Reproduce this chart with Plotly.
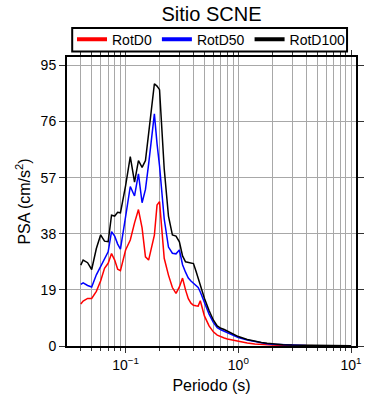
import plotly.graph_objects as go

periods = [0.04, 0.042, 0.046, 0.05, 0.055, 0.06, 0.065, 0.07, 0.075, 0.08,
           0.085, 0.09, 0.1, 0.11, 0.12, 0.13, 0.14, 0.15, 0.16, 0.17,
           0.18, 0.19, 0.2, 0.22, 0.24, 0.26, 0.28, 0.3, 0.32, 0.34,
           0.36, 0.38, 0.4, 0.42, 0.44, 0.46, 0.5, 0.55, 0.6, 0.65,
           0.7, 0.75, 0.8, 0.9, 1.0, 1.2, 1.4, 1.6, 1.8, 2.0,
           2.5, 3.0, 4.0, 5.0, 6.0, 7.0, 8.0, 10.0]

rotd0 = [14.2, 15.2, 16.1, 16.1, 18.5, 22.0, 26.3, 28.0, 31.3, 29.1,
         26.0, 25.5, 32.5, 35.9, 41.7, 46.2, 40.0, 30.2, 29.1, 34.0,
         37.5, 47.7, 48.9, 29.7, 24.0, 19.8, 17.8, 20.0, 23.0, 19.0,
         16.0, 14.5, 13.8, 13.6, 13.5, 15.3, 10.2, 6.8, 4.8, 3.7,
         3.1, 2.7, 2.4, 2.0, 1.5, 1.0, 0.7, 0.5, 0.4, 0.3,
         0.2, 0.15, 0.1, 0.08, 0.06, 0.05, 0.04, 0.03]

rotd50 = [20.9, 21.4, 20.5, 20.0, 24.1, 26.9, 29.4, 31.9, 38.7, 37.2,
          34.5, 32.8, 43.8, 54.0, 50.8, 58.3, 48.5, 53.0, 61.6, 70.9,
          78.6, 68.5, 61.0, 43.0, 33.5, 31.4, 31.2, 32.5, 27.5, 25.0,
          23.0, 22.0, 21.2, 20.5, 19.8, 18.3, 14.8, 10.8, 8.0, 6.2,
          5.5, 5.0, 4.5, 3.7, 2.9, 2.0, 1.45, 1.05, 0.8, 0.6,
          0.38, 0.26, 0.16, 0.12, 0.1, 0.08, 0.06, 0.05]

rotd100 = [27.4, 29.1, 28.2, 25.9, 33.0, 37.6, 35.5, 35.3, 44.3, 44.0,
           45.3, 45.1, 54.3, 64.1, 55.5, 62.8, 60.5, 62.8, 71.9, 81.7,
           88.8, 88.0, 86.8, 60.0, 44.0, 37.6, 37.2, 35.3, 30.5, 28.5,
           28.2, 28.1, 27.9, 25.5, 23.0, 20.5, 16.2, 12.0, 8.8, 6.8,
           6.0, 5.6, 5.1, 4.2, 3.2, 2.2, 1.6, 1.2, 0.9, 0.7,
           0.45, 0.3, 0.2, 0.15, 0.12, 0.1, 0.08, 0.06]

series_names = ["RotD0", "RotD50", "RotD100"]
series_colors = ["#ff0000", "#0000ff", "#000000"]

x_major = [0.1, 1, 10]
x_major_text = ["10<sup>−1</sup>", "10<sup>0</sup>", "10<sup>1</sup>"]
x_minor = [0.03, 0.04, 0.05, 0.06, 0.07, 0.08, 0.09,
           0.2, 0.3, 0.4, 0.5, 0.6, 0.7, 0.8, 0.9,
           2, 3, 4, 5, 6, 7, 8, 9]
y_ticks = [0, 19, 38, 57, 76, 95]

FONT = "Liberation Sans, Arial, Helvetica, sans-serif"
GRID = "#a8a8a8"

fig = go.Figure()
for name, color, vals in zip(series_names, series_colors, [rotd0, rotd50, rotd100]):
    fig.add_trace(go.Scatter(x=periods, y=vals, mode="lines", name=name,
                             line=dict(color=color, width=1.5), showlegend=False))
# legend entries with thicker sample lines
for name, color in zip(series_names, series_colors):
    fig.add_trace(go.Scatter(x=[None], y=[None], mode="lines", name=name,
                             line=dict(color=color, width=4), showlegend=True))

fig.update_layout(
    width=390, height=400,
    margin=dict(l=67, r=34, t=57, b=54, autoexpand=False),
    paper_bgcolor="white", plot_bgcolor="white",
    font=dict(family=FONT, color="black", size=14),
    title=dict(text="Sitio SCNE", x=0.5, xref="paper", xanchor="center",
               y=0.965, yref="container", yanchor="middle",
               font=dict(size=20, family=FONT, color="black")),
    legend=dict(orientation="h", x=0.5, xanchor="center", xref="paper",
                y=1.06, yanchor="middle", borderwidth=0,
                bgcolor="rgba(0,0,0,0)", font=dict(size=14, family=FONT),
                tracegroupgap=0),
    showlegend=True,
    shapes=[dict(type="rect", xref="paper", yref="paper",
                 x0=0.018, x1=0.969, y0=1.0194, y1=1.1006,
                 line=dict(color="black", width=2), fillcolor="white",
                 layer="above")],
)

fig.update_xaxes(
    type="log", range=[-1.52, 1.044],
    tickmode="array", tickvals=x_major, ticktext=x_major_text,
    ticks="outside", ticklen=5, tickwidth=1, tickcolor="#333333",
    showline=True, linecolor="black", linewidth=2, mirror="ticks",
    showgrid=True, gridcolor=GRID, gridwidth=1,
    zeroline=False,
    minor=dict(tickmode="array", tickvals=x_minor, ticks="outside", ticklen=3,
               tickcolor="#333333", showgrid=True, gridcolor=GRID, gridwidth=1),
    title=dict(text="Periodo (s)", font=dict(size=16, family=FONT), standoff=8),
    tickfont=dict(size=14, family=FONT),
)
fig.update_yaxes(
    range=[0, 97.85],
    tickmode="array", tickvals=y_ticks,
    ticks="outside", ticklen=6, tickwidth=1, tickcolor="#333333",
    showline=True, linecolor="black", linewidth=2, mirror="ticks",
    showgrid=True, gridcolor=GRID, gridwidth=1,
    zeroline=False,
    title=dict(text="PSA (cm/s<sup>2</sup>)", font=dict(size=16, family=FONT), standoff=6),
    tickfont=dict(size=14, family=FONT),
)

fig.write_html("out.html", config={"displayModeBar": False},
               post_script="document.body.style.margin='0';document.body.style.overflow='hidden';")
